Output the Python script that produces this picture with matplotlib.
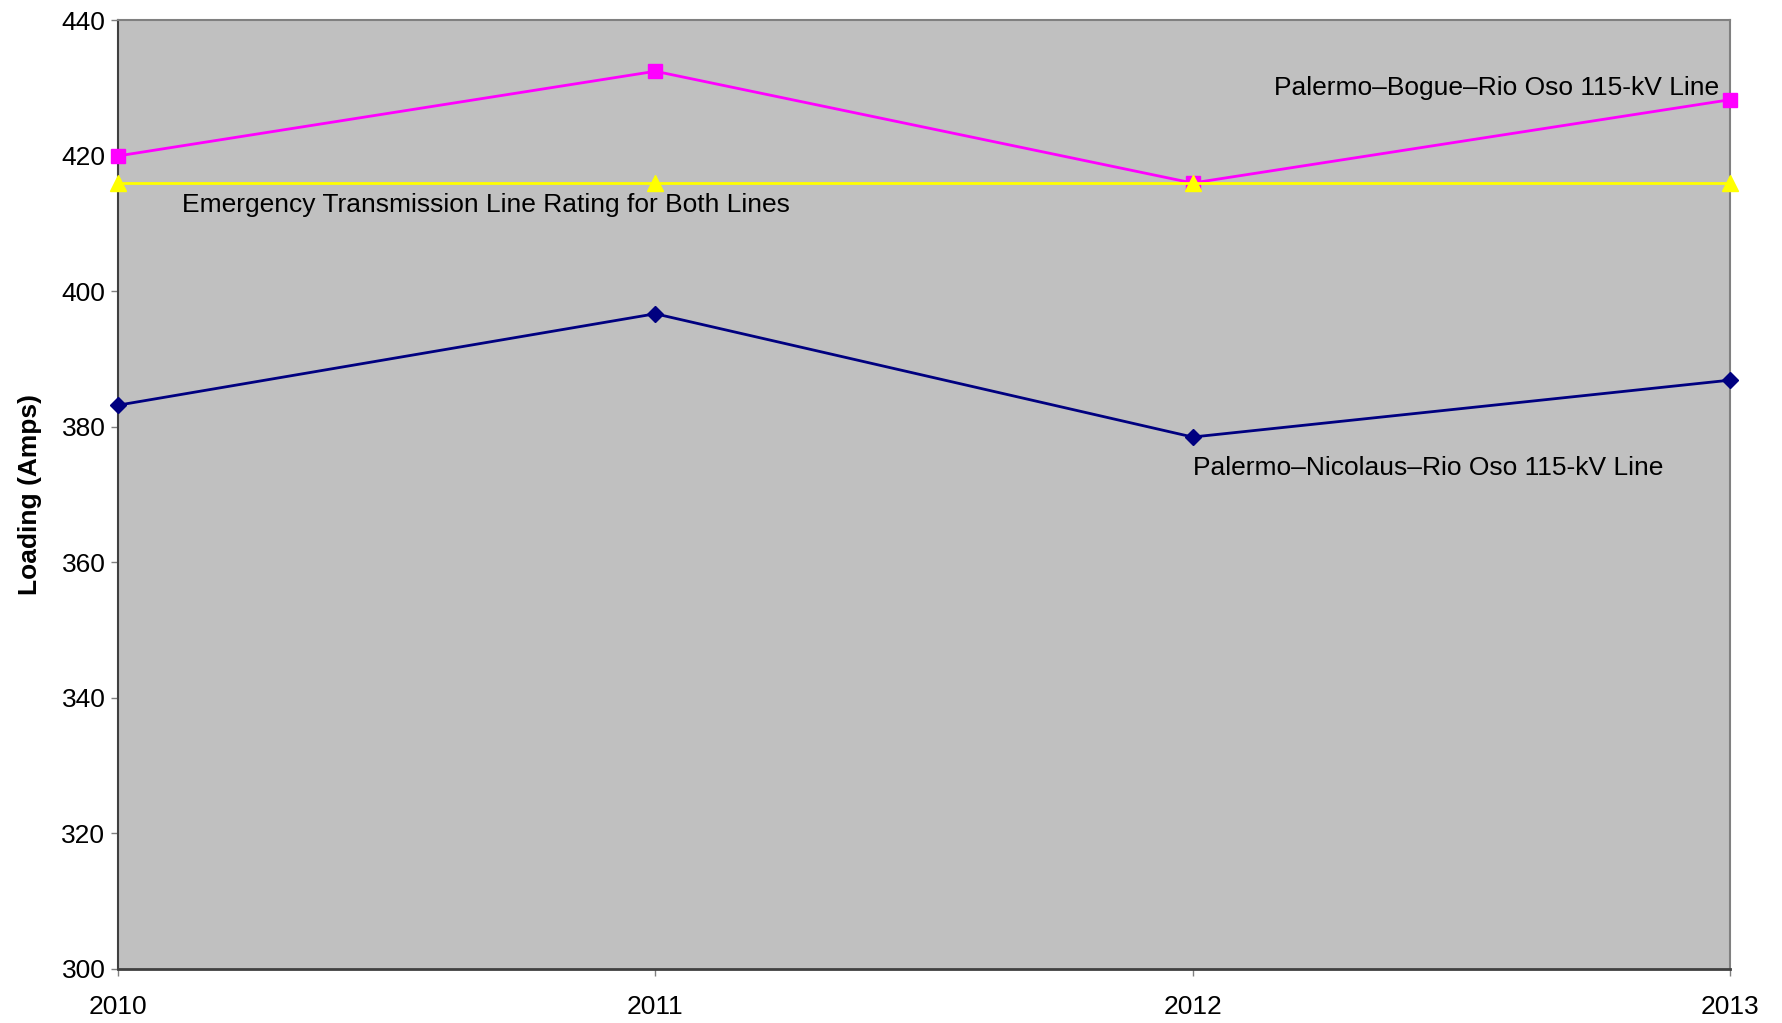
import matplotlib
matplotlib.use("Agg")
import matplotlib.pyplot as plt

years = [2010, 2011, 2012, 2013]
bogue = [420.0, 432.5, 416.0, 428.3]
rating = [416.0, 416.0, 416.0, 416.0]
nicolaus = [383.2, 396.7, 378.5, 386.9]
yticks = [300, 320, 340, 360, 380, 400, 420, 440]

plt.rcParams['font.family'] = ['Liberation Sans', 'DejaVu Sans']

fig = plt.figure(figsize=(17.82, 10.23), dpi=100)
ax = fig.add_axes([0.0662, 0.053, 0.9046, 0.927])
ax.set_facecolor('#C0C0C0')

ax.plot(years, nicolaus, color='#000080', lw=2, marker='D', ms=8, clip_on=False, zorder=3)
ax.plot(years, bogue, color='#FF00FF', lw=2, marker='s', ms=10, clip_on=False, zorder=3)
ax.plot(years, rating, color='#FFFF00', lw=2, marker='^', ms=11, clip_on=False, zorder=4)

ax.set_xlim(2010, 2013)
ax.set_ylim(300, 440)
ax.set_xticks(years)
ax.set_xticklabels([str(y) for y in years])
ax.set_yticks(yticks)
ax.tick_params(axis='both', labelsize=19, direction='out', length=5, width=1, colors='#808080', labelcolor='black')
ax.tick_params(axis='x', pad=14)
ax.tick_params(axis='y', pad=4)

for s in ['top', 'right']:
    ax.spines[s].set_color('#808080')
    ax.spines[s].set_linewidth(1.5)
ax.spines['left'].set_color('#404040')
ax.spines['bottom'].set_color('#404040')
ax.spines['left'].set_linewidth(1.5)
ax.spines['bottom'].set_linewidth(2)

ax.set_ylabel('Loading (Amps)', fontsize=19, fontweight='bold', labelpad=14)

ax.text(2012.98, 430.1, 'Palermo\u2013Bogue\u2013Rio Oso 115-kV Line', fontsize=19, ha='right', va='center')
ax.text(2010.12, 412.7, 'Emergency Transmission Line Rating for Both Lines', fontsize=19, ha='left', va='center')
ax.text(2012.0, 374.0, 'Palermo\u2013Nicolaus\u2013Rio Oso 115-kV Line', fontsize=19, ha='left', va='center')

fig.savefig('out.png', dpi=100)
